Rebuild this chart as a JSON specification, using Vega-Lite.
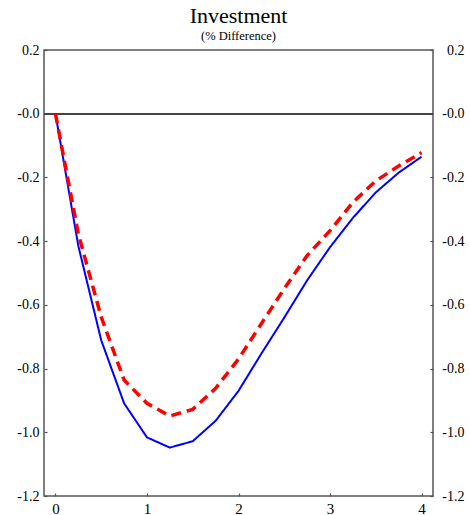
{
  "$schema": "https://vega.github.io/schema/vega-lite/v6.json",
  "width": 389,
  "height": 446,
  "autosize": {"type": "none"},
  "padding": {"left": 44, "top": 50, "right": 37, "bottom": 19},
  "background": "white",
  "title": {
    "text": "Investment",
    "subtitle": "(% Difference)",
    "font": "Liberation Serif",
    "subtitleFont": "Liberation Serif",
    "fontSize": 22,
    "subtitleFontSize": 12.5,
    "fontWeight": "normal",
    "color": "black",
    "subtitleColor": "black",
    "subtitlePadding": 2,
    "anchor": "middle",
    "offset": 0
  },
  "config": {
    "font": "Liberation Serif",
    "view": {"stroke": "#555", "strokeWidth": 1.5},
    "title": {"subtitleFont": "Liberation Serif"},
    "axis": {
      "labelFont": "Liberation Serif",
      "labelFontSize": 14,
      "labelColor": "black",
      "domain": false,
      "grid": false,
      "tickColor": "#555",
      "tickWidth": 1.2,
      "title": null
    }
  },
  "data": {
    "values": [
      {"t": 0, "series": "A", "v": 0},
      {"t": 0.25, "series": "A", "v": -0.415},
      {"t": 0.5, "series": "A", "v": -0.711},
      {"t": 0.75, "series": "A", "v": -0.909},
      {"t": 1, "series": "A", "v": -1.016},
      {"t": 1.25, "series": "A", "v": -1.048},
      {"t": 1.5, "series": "A", "v": -1.028},
      {"t": 1.75, "series": "A", "v": -0.964},
      {"t": 2, "series": "A", "v": -0.87},
      {"t": 2.25, "series": "A", "v": -0.753},
      {"t": 2.5, "series": "A", "v": -0.64},
      {"t": 2.75, "series": "A", "v": -0.523},
      {"t": 3, "series": "A", "v": -0.419},
      {"t": 3.25, "series": "A", "v": -0.327},
      {"t": 3.5, "series": "A", "v": -0.247},
      {"t": 3.75, "series": "A", "v": -0.185},
      {"t": 4, "series": "A", "v": -0.135},
      {"t": 0, "series": "B", "v": 0},
      {"t": 0.25, "series": "B", "v": -0.377},
      {"t": 0.5, "series": "B", "v": -0.638},
      {"t": 0.75, "series": "B", "v": -0.836},
      {"t": 1, "series": "B", "v": -0.909},
      {"t": 1.25, "series": "B", "v": -0.949},
      {"t": 1.5, "series": "B", "v": -0.928},
      {"t": 1.75, "series": "B", "v": -0.862},
      {"t": 2, "series": "B", "v": -0.77},
      {"t": 2.25, "series": "B", "v": -0.659},
      {"t": 2.5, "series": "B", "v": -0.549},
      {"t": 2.75, "series": "B", "v": -0.445},
      {"t": 3, "series": "B", "v": -0.367},
      {"t": 3.25, "series": "B", "v": -0.278},
      {"t": 3.5, "series": "B", "v": -0.211},
      {"t": 3.75, "series": "B", "v": -0.164},
      {"t": 4, "series": "B", "v": -0.122}
    ]
  },
  "layer": [
    {
      "mark": {"type": "rule", "color": "#444", "strokeWidth": 1.5},
      "encoding": {
        "y": {
          "datum": 0,
          "type": "quantitative",
          "scale": {"domain": [-1.2, 0.2], "nice": false, "zero": false},
          "axis": {
            "orient": "right",
            "values": [0.2, 0, -0.2, -0.4, -0.6, -0.8, -1.0, -1.2],
            "labelExpr": "datum.value > 0.01 ? format(datum.value, '.1f') : '-' + format(abs(datum.value), '.1f')",
            "labelFont": "Liberation Serif",
            "tickSize": -3,
            "labelAlign": "right",
            "labelPadding": 34
          }
        }
      }
    },
    {
      "mark": {"type": "line", "clip": true},
      "encoding": {
        "x": {
          "field": "t",
          "type": "quantitative",
          "scale": {"domain": [-0.125, 4.125], "nice": false, "zero": false},
          "axis": {
            "values": [0, 1, 2, 3, 4],
            "format": "d",
            "labelFont": "Liberation Serif",
            "tickSize": -3,
            "labelPadding": 8,
            "labelFontSize": 15
          }
        },
        "y": {
          "field": "v",
          "type": "quantitative",
          "scale": {"domain": [-1.2, 0.2], "nice": false, "zero": false},
          "axis": {
            "orient": "left",
            "values": [0.2, 0, -0.2, -0.4, -0.6, -0.8, -1.0, -1.2],
            "labelExpr": "datum.value > 0.01 ? format(datum.value, '.1f') : '-' + format(abs(datum.value), '.1f')",
            "labelFont": "Liberation Serif",
            "tickSize": -3,
            "labelPadding": 8
          }
        },
        "color": {
          "field": "series",
          "type": "nominal",
          "scale": {"domain": ["A", "B"], "range": ["#0000ff", "#ff0000"]},
          "legend": null
        },
        "strokeDash": {
          "field": "series",
          "type": "nominal",
          "scale": {"domain": ["A", "B"], "range": [[1, 0], [10, 6]]},
          "legend": null
        },
        "strokeWidth": {
          "field": "series",
          "type": "nominal",
          "scale": {"domain": ["A", "B"], "range": [2, 3.5]},
          "legend": null
        }
      }
    }
  ],
  "resolve": {"scale": {"y": "independent"}}
}
